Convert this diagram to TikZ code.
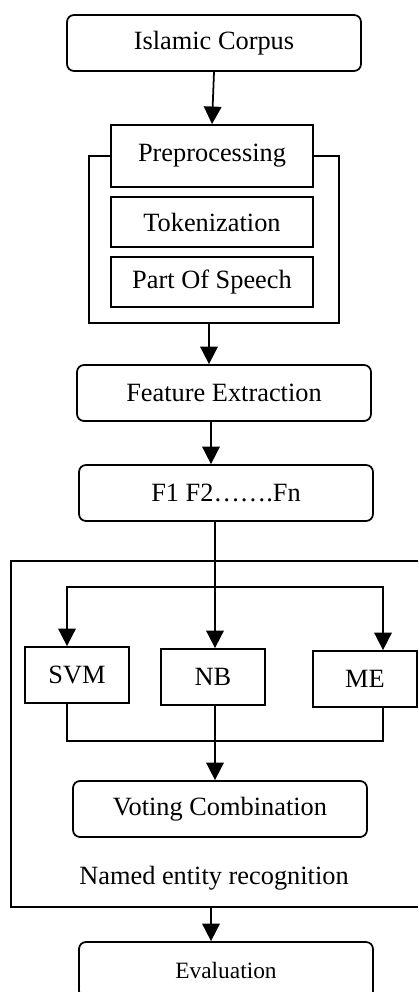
\documentclass[tikz,border=0pt]{standalone}
\usepackage{fontspec}
\setmainfont{Liberation Serif}
\usetikzlibrary{arrows.meta}

\tikzset{
  txt/.style={font=\fontsize{15}{18}\selectfont},
  rbox/.style={draw,rounded corners=4pt,minimum width=5.88cm,minimum height=1.12cm,txt},
  sbox/.style={draw,minimum width=4.04cm,minimum height=1.0cm,txt},
  cbox/.style={draw,minimum width=2.08cm,minimum height=1.12cm,txt}
}

\begin{document}
\begin{tikzpicture}[>={Triangle[length=10pt,width=10pt]},line width=1pt]
  \useasboundingbox (0,0) rectangle (8.36,-19.84);
  \clip (0,0) rectangle (8.36,-19.84);
  % top part
  \node[rbox] (corpus) at (4.28,-0.86) {Islamic Corpus};
  \node[sbox,minimum height=1.24cm] (prep) at (4.24,-3.12) {Preprocessing};
  \node[sbox] (token) at (4.24,-4.44) {Tokenization};
  \node[sbox] (pos) at (4.24,-5.64) {Part Of Speech};
  \draw (prep.west) -- (1.78,-3.12) -- (1.78,-6.46) -- (6.78,-6.46) -- (6.78,-3.12) -- (prep.east);
  \draw[->] (corpus.south) -- (prep.north);
  \node[rbox] (feat) at (4.48,-7.86) {Feature Extraction};
  \node[rbox] (feats) at (4.52,-9.86) {F1 F2…….Fn};
  \coordinate (pfb) at (4.18,-6.46); \draw[->] (pfb) -- (pfb |- feat.north);
  \draw[->] ([xshift=-0.26cm]feat.south) coordinate (fa) -- (fa |- feats.north);
  % named entity recognition
  \draw (8.36,-11.22) -- (0.22,-11.22) -- (0.22,-18.14) -- (8.36,-18.14);
  \node[cbox] (svm) at (1.54,-13.5) {SVM};
  \node[cbox] (nb) at (4.26,-13.54) {NB};
  \node[cbox] (me) at (7.30,-13.58) {ME};
  \coordinate (fork) at (4.30,-11.74); \coordinate (join) at (4.30,-14.82);
  \draw ([xshift=-0.22cm]feats.south) -- (fork);
  \draw[->] (fork) -- (fork |- nb.north);
  \draw[->] (fork) -| ([xshift=-0.2cm]svm.north);
  \draw[->] (fork) -| ([xshift=0.36cm]me.north);
  \draw ([xshift=-0.2cm]svm.south) |- (join) -| ([xshift=0.36cm]me.south);
  \draw (nb.south -| join) -- (join);
  \node[rbox] (vote) at (4.40,-16.18) {Voting Combination};
  \draw[->] (join) -- (join |- vote.north);
  \node[txt] (ner) at (4.28,-17.56) {Named entity recognition};
  % evaluation
  \node[rbox,font=\fontsize{13.3}{16}\selectfont] (eval) at (4.52,-19.40) {Evaluation};
  \coordinate (nerb) at (4.22,-18.14); \draw[->] (nerb) -- (nerb |- eval.north);
\end{tikzpicture}
\end{document}
